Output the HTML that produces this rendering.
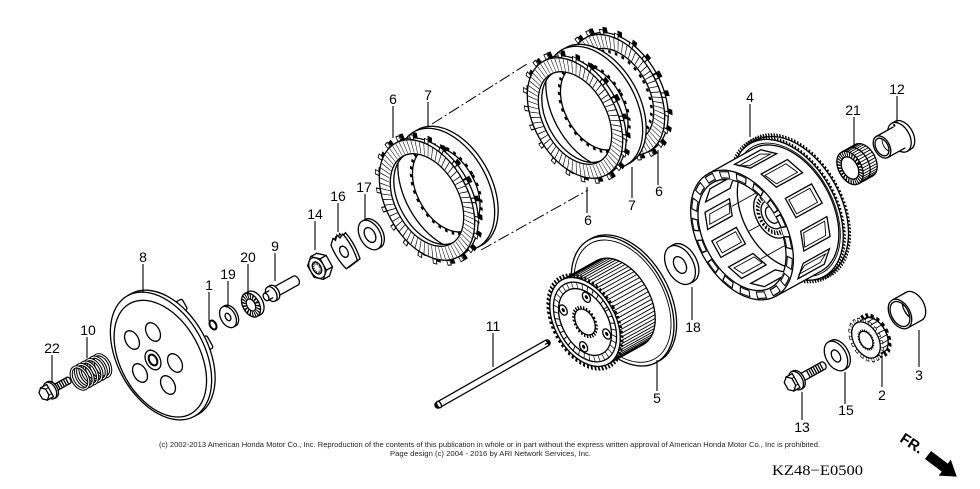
<!DOCTYPE html>
<html><head><meta charset="utf-8">
<style>
html,body{margin:0;padding:0;background:#fff}
svg{display:block}
.s{fill:#fff;stroke:#000;stroke-width:1.3;vector-effect:non-scaling-stroke}
.l{fill:none;stroke:#000;stroke-width:1.3;vector-effect:non-scaling-stroke}
.t{fill:none;stroke:#000;stroke-width:0.9;vector-effect:non-scaling-stroke}
.w{fill:#fff}
.n{font-family:"Liberation Sans",Arial,sans-serif;font-size:14px;text-anchor:middle;fill:#000}
</style></head>
<body>
<svg width="980" height="489" viewBox="0 0 980 489" xmlns="http://www.w3.org/2000/svg">
<defs>
<clipPath id="c4"><ellipse rx="37.8" ry="60"/></clipPath>
<clipPath id="c3"><ellipse rx="8.5" ry="13.5"/></clipPath>
<clipPath id="c12"><ellipse rx="6" ry="9.5"/></clipPath>
</defs>
<rect width="980" height="489" fill="#fff"/>

<!-- dash-dot lines -->
<path d="M432,124L527,64M481,250L588,190" fill="none" stroke="#000" stroke-width="1" stroke-dasharray="12 3 2 3"/>

<!-- ===== LEFT PACK (6,7) ===== -->
<g transform="translate(427,200) rotate(-29)">
 <g transform="translate(26,0) scale(.63,1)"><circle r="66" class="s"/></g>
 <g transform="translate(22,0) scale(.63,1)">
  <circle r="66" class="s"/>
  <circle r="48" fill="none" stroke="#000" stroke-width="3.5" stroke-dasharray="3.5 5.5"/>
  <circle r="46" class="s"/>
 </g>
 <g transform="translate(4,0) scale(.63,1)">
  <circle r="68" fill="none" stroke="#000" stroke-width="6" stroke-dasharray="6 14.3"/>
  <circle r="57.5" fill="none" stroke="#fff" stroke-width="15"/>
  <circle r="65" class="l"/><circle r="50" class="l"/>
 </g>
 <g transform="scale(.63,1)">
  <circle r="68" fill="none" stroke="#000" stroke-width="6" stroke-dasharray="6 14.3"/>
  <circle r="68" fill="none" stroke="#fff" stroke-width="4" stroke-dasharray="3.6 16.7" stroke-dashoffset="-1.2"/>
  <circle r="57.5" fill="none" stroke="#fff" stroke-width="15"/>
  <circle r="57.5" fill="none" stroke="#000" stroke-width="13" stroke-dasharray="0.8 4.6"/>
  <circle r="65" class="l"/><circle r="50" class="l"/>
 </g>
</g>

<!-- ===== RIGHT PACK (6,7,6) ===== -->
<g transform="translate(575,118) rotate(-29)">
 <g transform="translate(52,0) scale(.63,1)">
  <circle r="68" fill="none" stroke="#000" stroke-width="6" stroke-dasharray="6 14.3"/>
  <circle r="57.5" fill="none" stroke="#fff" stroke-width="15"/>
  <circle r="65" class="l"/><circle r="50" class="l"/>
 </g>
 <g transform="translate(48,0) scale(.63,1)">
  <circle r="68" fill="none" stroke="#000" stroke-width="6" stroke-dasharray="6 14.3"/>
  <circle r="68" fill="none" stroke="#fff" stroke-width="4" stroke-dasharray="3.6 16.7" stroke-dashoffset="-1.2"/>
  <circle r="57.5" fill="none" stroke="#fff" stroke-width="15"/>
  <circle r="57.5" fill="none" stroke="#000" stroke-width="13" stroke-dasharray="0.8 4.6"/>
  <circle r="65" class="l"/><circle r="50" class="l"/>
  <circle r="47" fill="none" stroke="#000" stroke-width="3.5" stroke-dasharray="3.5 5.5"/>
 </g>
 <g transform="translate(26,0) scale(.63,1)"><circle r="66" class="s"/></g>
 <g transform="translate(22,0) scale(.63,1)">
  <circle r="66" class="s"/>
  <circle r="48" fill="none" stroke="#000" stroke-width="3.5" stroke-dasharray="3.5 5.5"/>
  <circle r="46" class="s"/>
 </g>
 <g transform="translate(4,0) scale(.63,1)">
  <circle r="68" fill="none" stroke="#000" stroke-width="6" stroke-dasharray="6 14.3"/>
  <circle r="57.5" fill="none" stroke="#fff" stroke-width="15"/>
  <circle r="65" class="l"/><circle r="50" class="l"/>
 </g>
 <g transform="scale(.63,1)">
  <circle r="68" fill="none" stroke="#000" stroke-width="6" stroke-dasharray="6 14.3"/>
  <circle r="68" fill="none" stroke="#fff" stroke-width="4" stroke-dasharray="3.6 16.7" stroke-dashoffset="-1.2"/>
  <circle r="57.5" fill="none" stroke="#fff" stroke-width="15"/>
  <circle r="57.5" fill="none" stroke="#000" stroke-width="13" stroke-dasharray="0.8 4.6"/>
  <circle r="65" class="l"/><circle r="50" class="l"/>
 </g>
</g>

<!-- ===== HOUSING 4 ===== -->
<g transform="translate(742,235) rotate(-29)">
 <g transform="translate(58,0) scale(.63,1)">
  <circle r="77" fill="none" stroke="#000" stroke-width="5" stroke-dasharray="2 2"/>
  <circle r="76" class="s"/>
 </g>
 <rect x="52" y="-76" width="6" height="152" class="w"/>
 <path d="M52,-76H58M52,76H58" class="l"/>
 <g transform="translate(52,0) scale(.63,1)">
  <circle r="77" fill="none" stroke="#000" stroke-width="5" stroke-dasharray="2 2"/>
  <circle r="76" class="s"/>
  <circle r="72" class="t"/>
 </g>
 <rect x="0" y="-70" width="52" height="140" class="w"/>
 <path d="M0,-70H52M0,70H52" class="l"/>
 <g transform="translate(52,0) scale(.63,1)"><path d="M0,-70A70,70 0 0 1 0,70" class="l"/></g>
 <path d="M27.8,-65.4H57.8L69.8,-54.4H39.8Z M46.3,-44H76.3L83.2,-25.1H53.2Z M55.6,-11H85.6V11H55.6Z M53.2,25.1H83.2L76.3,44H46.3Z M39.8,54.4H69.8L57.8,65.4H27.8Z" class="s"/>
 <path d="M31,-62H55L64,-57H40Z M49,-41H73L79,-28H55Z M58,-8H82V8H58Z M55,28H79L73,41H49Z M40,57H64L55,62H31Z" class="t"/>
 <g transform="scale(.63,1)">
  <circle r="70" class="s"/>
  <circle r="65" fill="none" stroke="#000" stroke-width="8" stroke-dasharray="14 9"/>
  <circle r="65" fill="none" stroke="#fff" stroke-width="5.5" stroke-dasharray="11 12" stroke-dashoffset="-1.5"/>
  <circle r="60" class="s"/>
 </g>
 <g clip-path="url(#c4)">
  <ellipse cx="45" rx="37.8" ry="60" class="l"/>
  <path d="M-29.3,-9.4H-1.3V9.4H-29.3Z M-21.4,37.8H6.6L0.7,21.5H-27.3Z M-21.4,-37.8H6.6L0.7,-21.5H-27.3Z M-5.5,56H22.5L12.2,46.6H-15.8Z M-5.5,-56H22.5L12.2,-46.6H-15.8Z" class="s"/>
  <path d="M-26,-6H-4V6H-26Z M-18,34H4L0,25H-23Z M-18,-34H4L0,-25H-23Z" class="t"/>
  <path d="M8,0H40M5,30H38M5,-30H38" class="t"/>
  <g transform="translate(36,-3) scale(.63,1)">
   <circle r="25" class="s"/>
   <circle r="19.5" fill="none" stroke="#000" stroke-width="5" stroke-dasharray="2 2"/>
   <circle r="15" class="s"/>
   <circle r="9" class="l"/>
  </g>
 </g>
</g>

<!-- ===== HUB 5 ===== -->
<g transform="translate(585,322) rotate(-29)">
 <g transform="translate(46,0) scale(.63,1)"><circle r="70" class="s"/></g>
 <rect x="43" y="-70" width="3" height="140" class="w"/>
 <g transform="translate(43,0) scale(.63,1)"><circle r="70" class="s"/><circle r="66" class="t"/></g>
 <g transform="translate(40,0) scale(.63,1)"><circle r="48" class="s"/></g>
 <rect x="0" y="-48" width="40" height="96" class="w"/>
 <path d="M0,-48H40M0,48H40" class="l"/>
 <path d="M2.64,-47.82h40M5.25,-47.27h40M7.83,-46.36h40M10.34,-45.11h40M12.78,-43.5h40M15.12,-41.57h40M17.35,-39.32h40M19.44,-36.77h40M21.38,-33.94h40M23.17,-30.85h40M24.77,-27.53h40M26.19,-24h40M27.41,-20.28h40M28.42,-16.42h40M29.21,-12.42h40M29.78,-8.34h40M30.13,-4.18h40M30.24,0h40M30.13,4.18h40M29.78,8.34h40M29.21,12.42h40M28.42,16.42h40M27.41,20.28h40M26.19,24h40M24.77,27.53h40M23.17,30.85h40M21.38,33.94h40M19.44,36.77h40M17.35,39.32h40M15.12,41.57h40M12.78,43.5h40M10.34,45.11h40M7.83,46.36h40M5.25,47.27h40M2.64,47.82h40" class="t"/>
 <g transform="scale(.63,1)">
  <circle r="50" fill="none" stroke="#000" stroke-width="5" stroke-dasharray="2.6 2.6"/>
  <circle r="48" class="s"/>
  <circle r="43" class="l"/>
  <circle r="39.5" fill="none" stroke="#000" stroke-width="7" stroke-dasharray="1 6"/>
  <circle r="36" class="l"/>
  <circle cx="21" cy="-21" r="5.5" class="s"/><circle cx="21" cy="-21" r="2.2" fill="#000"/>
  <circle cx="21" cy="21" r="5.5" class="s"/><circle cx="21" cy="21" r="2.2" fill="#000"/>
  <circle cx="-21" cy="21" r="5.5" class="s"/><circle cx="-21" cy="21" r="2.2" fill="#000"/>
  <circle cx="-21" cy="-21" r="5.5" class="s"/><circle cx="-21" cy="-21" r="2.2" fill="#000"/>
  <circle r="16" fill="none" stroke="#000" stroke-width="3" stroke-dasharray="2 2"/>
  <circle r="14" class="s"/>
 </g>
</g>

<!-- washer 18 -->
<g transform="translate(680,265) rotate(-29)">
 <g transform="translate(4,0) scale(.63,1)"><circle r="21" class="s"/></g>
 <rect x="0" y="-21" width="4" height="42" class="w"/>
 <path d="M0,-21H4M0,21H4" class="l"/>
 <g transform="scale(.63,1)"><circle r="21" class="s"/><circle r="9" class="s"/></g>
</g>

<!-- rod 11 -->
<path d="M438,405L547,343" stroke="#000" stroke-width="7.5" stroke-linecap="round"/>
<path d="M438,405L547,343" stroke="#fff" stroke-width="5"/>
<ellipse cx="439" cy="404.5" rx="2" ry="3.5" transform="rotate(-29 439 404.5)" class="s"/>
<path d="M545,344.5l2.5,-1.5" class="l"/>

<!-- ===== BEARING 21 ===== -->
<g transform="translate(850,168) rotate(-29)">
 <g transform="translate(16,0) scale(.63,1)"><circle r="18" class="s"/></g>
 <rect x="0" y="-18" width="16" height="36" class="w"/>
 <path d="M0,-18H16M0,18H16" class="l"/>
 <path d="M1.97,-17.73h16M3.88,-16.91h16M5.67,-15.59h16M7.29,-13.79h16M8.69,-11.57h16M9.82,-9h16M10.66,-6.16h16M11.17,-3.13h16M11.34,0h16M11.17,3.13h16M10.66,6.16h16M9.82,9h16M8.69,11.57h16M7.29,13.79h16M5.67,15.59h16M3.88,16.91h16M1.97,17.73h16" class="t"/>
 <g transform="translate(8,0) scale(.63,1)"><path d="M0,-18A18,18 0 0 1 0,18" class="l"/></g>
 <g transform="scale(.63,1)">
  <circle r="18" class="s"/>
  <circle r="15" fill="none" stroke="#000" stroke-width="5" stroke-dasharray="1.6 1.6"/>
  <circle r="12" class="s"/>
 </g>
</g>

<!-- ===== COLLAR 12 ===== -->
<g transform="translate(882,147) rotate(-29)">
 <g transform="translate(24,0) scale(.63,1)"><circle r="16" class="s"/></g>
 <rect x="20" y="-16" width="4" height="32" class="w"/>
 <path d="M20,-16H24M20,16H24" class="l"/>
 <g transform="translate(20,0) scale(.63,1)"><circle r="16" class="s"/><circle cx="2" cy="-13" r="1.5" fill="#000"/></g>
 <rect x="0" y="-12" width="20" height="24" class="w"/>
 <path d="M0,-12H20M0,12H20" class="l"/>
 <g transform="scale(.63,1)"><circle r="12" class="s"/><circle r="9.5" class="s"/></g>
 <g clip-path="url(#c12)"><ellipse cx="8" rx="6" ry="9.5" class="t"/></g>
</g>

<!-- ===== COLLAR 3 ===== -->
<g transform="translate(900,314) rotate(-29)">
 <g transform="translate(16,0) scale(.63,1)"><circle r="16" class="s"/></g>
 <rect x="0" y="-16" width="16" height="32" class="w"/>
 <path d="M0,-16H16M0,16H16" class="l"/>
 <g transform="scale(.63,1)"><circle r="16" class="s"/><circle r="13.5" class="s"/></g>
 <g clip-path="url(#c3)"><ellipse cx="14" rx="8.5" ry="13.5" class="l"/></g>
</g>

<!-- ===== GEAR 2 ===== -->
<g transform="translate(866,340) rotate(-29)">
 <g transform="translate(9,0) scale(.63,1)">
  <circle r="21.5" fill="none" stroke="#000" stroke-width="5" stroke-dasharray="4 3.5"/>
  <circle r="19.5" class="s"/>
 </g>
 <rect x="0" y="-19.5" width="9" height="39" class="w"/>
 <path d="M0,-19.5H9M0,19.5H9" class="l"/>
 <path d="M6.75,-18.6h9M11.7,-10.75h9M13.5,0h9M11.7,10.75h9M6.75,18.6h9M9.5,-15h9M13,-5.5h9M13,5.5h9M9.5,15h9" class="t"/>
 <g transform="scale(.63,1)">
  <circle r="21.5" fill="none" stroke="#000" stroke-width="5" stroke-dasharray="4 3.5"/>
  <circle r="21.5" fill="none" stroke="#fff" stroke-width="3" stroke-dasharray="2.6 4.9" stroke-dashoffset="-0.7"/>
  <circle r="19.5" class="s"/>
  <circle r="10.5" fill="none" stroke="#000" stroke-width="2" stroke-dasharray="1.5 1.5"/>
  <circle r="9.5" class="s"/>
 </g>
</g>

<!-- washer 15 -->
<g transform="translate(836,356) rotate(-29)">
 <g transform="translate(3,0) scale(.63,1)"><circle r="16" class="s"/></g>
 <rect x="0" y="-16" width="3" height="32" class="w"/>
 <path d="M0,-16H3M0,16H3" class="l"/>
 <g transform="scale(.63,1)"><circle r="16" class="s"/><circle r="6.5" class="s"/></g>
</g>

<!-- bolt 13 -->
<g transform="translate(790,384) rotate(-29)">
 <g transform="translate(38,0) scale(.63,1)"><circle r="4" class="s"/></g>
 <rect x="9" y="-4" width="29" height="8" class="w"/>
 <path d="M9,-4H38M9,4H38M21,-4v8M23.5,-4v8M26,-4v8M28.5,-4v8M31,-4v8M33.5,-4v8M36,-4v8" class="l"/>
 <g transform="translate(9,0) scale(.63,1)"><circle r="10" class="s"/></g>
 <rect x="7" y="-10" width="2" height="20" class="w"/>
 <path d="M7,-10H9M7,10H9" class="l"/>
 <g transform="translate(7,0) scale(.63,1)"><circle r="10" class="s"/></g>
 <rect x="0" y="-8" width="7" height="16" class="s"/>
 <path d="M0,-4H7M0,4H7" class="t"/>
 <g transform="scale(.63,1)"><polygon points="0,-8 6.93,-4 6.93,4 0,8 -6.93,4 -6.93,-4" class="s"/></g>
</g>

<!-- ===== LEFT SMALL PARTS ===== -->
<!-- bolt 22 -->
<g transform="translate(44,394) rotate(-29)">
 <g transform="translate(28,0) scale(.63,1)"><circle r="3.5" class="s"/></g>
 <rect x="9" y="-3.5" width="19" height="7" class="w"/>
 <path d="M9,-3.5H28M9,3.5H28M14,-3.5v7M16.5,-3.5v7M19,-3.5v7M21.5,-3.5v7M24,-3.5v7M26.5,-3.5v7" class="l"/>
 <g transform="translate(9,0) scale(.63,1)"><circle r="9" class="s"/></g>
 <rect x="7" y="-9" width="2" height="18" class="w"/>
 <path d="M7,-9H9M7,9H9" class="l"/>
 <g transform="translate(7,0) scale(.63,1)"><circle r="9" class="s"/></g>
 <rect x="0" y="-7" width="7" height="14" class="s"/>
 <path d="M0,-3.5H7M0,3.5H7" class="t"/>
 <g transform="scale(.63,1)"><polygon points="0,-7 6.06,-3.5 6.06,3.5 0,7 -6.06,3.5 -6.06,-3.5" class="s"/></g>
</g>

<!-- spring 10 -->
<g transform="translate(80,378) rotate(-29)" fill="none" stroke-linecap="round">
 <g transform="translate(25,0) scale(.63,1)"><circle r="12" stroke="#000" stroke-width="3.2" vector-effect="non-scaling-stroke"/><circle r="12" stroke="#fff" stroke-width="1.1" vector-effect="non-scaling-stroke"/></g>
 <g transform="translate(20,0) scale(.63,1)"><circle r="12" stroke="#000" stroke-width="3.2" vector-effect="non-scaling-stroke"/><circle r="12" stroke="#fff" stroke-width="1.1" vector-effect="non-scaling-stroke"/></g>
 <g transform="translate(15,0) scale(.63,1)"><circle r="12" stroke="#000" stroke-width="3.2" vector-effect="non-scaling-stroke"/><circle r="12" stroke="#fff" stroke-width="1.1" vector-effect="non-scaling-stroke"/></g>
 <g transform="translate(10,0) scale(.63,1)"><circle r="12" stroke="#000" stroke-width="3.2" vector-effect="non-scaling-stroke"/><circle r="12" stroke="#fff" stroke-width="1.1" vector-effect="non-scaling-stroke"/></g>
 <g transform="translate(5,0) scale(.63,1)"><circle r="12" stroke="#000" stroke-width="3.2" vector-effect="non-scaling-stroke"/><circle r="12" stroke="#fff" stroke-width="1.1" vector-effect="non-scaling-stroke"/></g>
 <g transform="scale(.63,1)"><circle r="12" stroke="#000" stroke-width="3.2" vector-effect="non-scaling-stroke"/><circle r="12" stroke="#fff" stroke-width="1.1" vector-effect="non-scaling-stroke"/></g>
</g>

<!-- pressure plate 8 -->
<g transform="translate(161,356) rotate(-29)">
 <rect x="34" y="-40" width="12" height="12" rx="2" class="s"/>
 <rect x="38" y="4" width="12" height="14" rx="2" class="s"/>
 <g transform="translate(4,0) scale(.63,1)"><circle r="69" class="s"/></g>
 <g transform="scale(.63,1)"><circle r="69" class="s"/><circle cx="-3" cy="2" r="63" class="l"/></g>
</g>
<ellipse cx="132" cy="340" rx="6.5" ry="10" transform="rotate(-29 132 340)" class="s"/>
<ellipse cx="153" cy="332" rx="6.5" ry="10" transform="rotate(-29 153 332)" class="s"/>
<ellipse cx="175" cy="363" rx="6.5" ry="10" transform="rotate(-29 175 363)" class="s"/>
<ellipse cx="168" cy="385" rx="6.5" ry="10" transform="rotate(-29 168 385)" class="s"/>
<ellipse cx="140" cy="373" rx="6.5" ry="10" transform="rotate(-29 140 373)" class="s"/>
<ellipse cx="153" cy="360" rx="7" ry="10.5" transform="rotate(-29 153 360)" class="s"/>
<ellipse cx="153" cy="360" rx="3.8" ry="5.8" transform="rotate(-29 153 360)" fill="#fff" stroke="#000" stroke-width="2"/>

<!-- washer 1 -->
<g transform="translate(213,325) rotate(-29) scale(.63,1)"><circle r="4.8" fill="none" stroke="#000" stroke-width="2" vector-effect="non-scaling-stroke"/></g>
<!-- washer 19 -->
<g transform="translate(228,317) rotate(-29)">
 <g transform="translate(2.5,0) scale(.63,1)"><circle r="11.5" class="s"/></g>
 <g transform="scale(.63,1)"><circle r="11.5" class="s"/><circle r="4" class="s"/></g>
</g>
<!-- bearing 20 -->
<g transform="translate(251,305) rotate(-29)">
 <g transform="translate(4,0) scale(.63,1)"><circle r="13" class="s"/></g>
 <rect x="0" y="-13" width="4" height="26" class="w"/>
 <path d="M0,-13H4M0,13H4" class="l"/>
 <g transform="scale(.63,1)">
  <circle r="13" class="s"/>
  <circle r="9.8" fill="none" stroke="#000" stroke-width="5" stroke-dasharray="1.6 1.6"/>
  <circle r="6.5" class="s"/>
 </g>
</g>
<!-- pin 9 -->
<g transform="translate(266,297) rotate(-29)">
 <g transform="translate(34,0) scale(.63,1)"><circle r="5" class="s"/></g>
 <rect x="9" y="-5" width="25" height="10" class="w"/>
 <path d="M9,-5H34M9,5H34" class="l"/>
 <g transform="translate(9,0) scale(.63,1)"><circle r="8" class="s"/></g>
 <rect x="6" y="-8" width="3" height="16" class="w"/>
 <path d="M6,-8H9M6,8H9" class="l"/>
 <g transform="translate(6,0) scale(.63,1)"><circle r="8" class="s"/></g>
 <rect x="0" y="-4" width="6" height="8" class="w"/>
 <path d="M0,-4H6M0,4H6" class="l"/>
 <g transform="scale(.63,1)"><circle r="4" class="s"/></g>
</g>
<!-- nut 14 -->
<g transform="translate(317,268) rotate(-29)">
 <g transform="translate(7,0) scale(.63,1)"><polygon points="0,-13 11.26,-6.5 11.26,6.5 0,13 -11.26,6.5 -11.26,-6.5" class="s"/></g>
 <rect x="0" y="-13" width="7" height="26" class="w"/>
 <path d="M0,-13H7M0,13H7M7.1,-6.5h7M7.1,6.5h7" class="l"/>
 <g transform="scale(.63,1)">
  <polygon points="0,-13 11.26,-6.5 11.26,6.5 0,13 -11.26,6.5 -11.26,-6.5" class="s"/>
  <circle r="11" class="t"/>
  <circle r="6.5" class="s"/>
  <circle r="4.8" fill="none" stroke="#000" stroke-width="2.5" stroke-dasharray="1 1.2"/>
 </g>
</g>
<!-- lock washer 16 -->
<g transform="translate(343,250) rotate(-29)">
 <g transform="translate(3,0) scale(.63,1)"><path d="M-13,-10L-5,-15L-3,-12L3,-16L5,-12L12,-14Q17,0 12,16L-10,18Q-16,4 -13,-10Z" class="s"/></g>
 <g transform="scale(.63,1)">
  <path d="M-13,-10L-5,-15L-3,-12L3,-16L5,-12L12,-14Q17,0 12,16L-10,18Q-16,4 -13,-10Z" class="s"/>
  <circle cy="2" r="6" class="s"/>
 </g>
</g>
<!-- washer 17 -->
<g transform="translate(370,235) rotate(-29)">
 <g transform="translate(3,0) scale(.63,1)"><circle r="16" class="s"/></g>
 <g transform="scale(.63,1)"><circle r="16" class="s"/><circle r="8" class="s"/></g>
</g>

<!-- leaders -->
<path d="M393,106V138M428,102V127M587,187V213M632,167V198M658,150V185M750,104V137M854,117V147M897,96V122M143,264V293M209,292V321M228,281V307M248,264V295M275,253V281M315,221V250M338,203V232M365,194V221M87,337V358M52,355V383M493,333V367M657,360V391M692,287V320M802,392V420M845,372V404M882,358V387M919,330V367" fill="none" stroke="#000" stroke-width="1.1"/>

<!-- labels -->
<text class="n" x="393" y="104">6</text>
<text class="n" x="428" y="100">7</text>
<text class="n" x="588" y="225">6</text>
<text class="n" x="632" y="210">7</text>
<text class="n" x="659" y="196">6</text>
<text class="n" x="750" y="102">4</text>
<text class="n" x="853" y="115">21</text>
<text class="n" x="897" y="94">12</text>
<text class="n" x="143" y="262">8</text>
<text class="n" x="209" y="290">1</text>
<text class="n" x="228" y="279">19</text>
<text class="n" x="248" y="262">20</text>
<text class="n" x="275" y="251">9</text>
<text class="n" x="315" y="219">14</text>
<text class="n" x="338" y="201">16</text>
<text class="n" x="364" y="192">17</text>
<text class="n" x="88" y="335">10</text>
<text class="n" x="52" y="353">22</text>
<text class="n" x="493" y="331">11</text>
<text class="n" x="657" y="403">5</text>
<text class="n" x="693" y="332">18</text>
<text class="n" x="802" y="432">13</text>
<text class="n" x="846" y="415">15</text>
<text class="n" x="882" y="400">2</text>
<text class="n" x="919" y="380">3</text>

<!-- footer -->
<text x="159" y="447" font-family="'Liberation Sans',Arial,sans-serif" font-size="7.5" fill="#222" textLength="661" lengthAdjust="spacingAndGlyphs">(c) 2002-2013 American Honda Motor Co., Inc. Reproduction of the contents of this publication in whole or in part without the express written approval of American Honda Motor Co., Inc is prohibited.</text>
<text x="390" y="456" font-family="'Liberation Sans',Arial,sans-serif" font-size="7.5" fill="#222" textLength="201" lengthAdjust="spacingAndGlyphs">Page design (c) 2004 - 2016 by ARI Network Services, Inc.</text>
<text x="772" y="475" font-family="'Liberation Serif','Times New Roman',serif" font-size="15" fill="#000" textLength="91" lengthAdjust="spacingAndGlyphs">KZ48−E0500</text>

<!-- FR arrow -->
<text transform="translate(899,441) rotate(33)" font-family="'Liberation Sans',Arial,sans-serif" font-weight="bold" font-size="15" fill="#000">FR.</text>
<g transform="translate(928,455) rotate(37)"><path d="M0,-5H21V-10L36,0L21,10V5H0Z" fill="#000"/></g>
</svg>
</body></html>
